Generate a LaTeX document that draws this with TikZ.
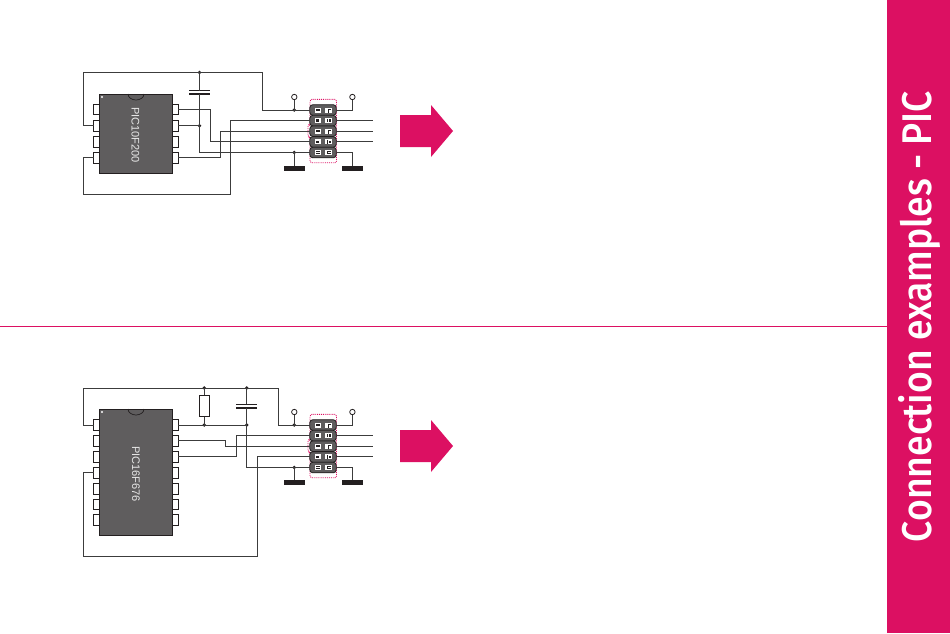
\documentclass[tikz,border=0pt]{standalone}
\usepackage{fontspec}
\setmainfont{Liberation Sans}
\newfontfamily\sidefont[FakeStretch=0.9]{Fira Sans Medium}
\definecolor{brand}{HTML}{DC1062}
\definecolor{chip}{HTML}{5F5D5E}
\definecolor{wire}{HTML}{3C3C3C}
\definecolor{gndc}{HTML}{231F20}
\tikzset{
  wirepath/.style={draw=wire,line width=1pt},
  chipbody/.style={draw=gndc,line width=0.7pt,fill=chip,minimum width=73.4pt,inner sep=0pt,outer sep=0pt},
  chiplabel/.style={text=white!85!chip,font=\fontsize{11}{11}\selectfont,rotate=-90,inner sep=0pt},
  pinbox/.style={draw=gndc,line width=0.8pt,fill=white,minimum width=5.6pt,minimum height=10.6pt,inner sep=0pt,outer sep=0pt},
  junction/.style={circle,fill=gndc,minimum size=3.7pt,inner sep=0pt,outer sep=0pt},
  vcc/.style={circle,draw=gndc,line width=0.8pt,fill=white,minimum size=5.4pt,inner sep=0pt,outer sep=0pt},
  gndbar/.style={fill=gndc,minimum width=21pt,minimum height=5pt,inner sep=0pt,outer sep=0pt},
  hdrrow/.style={draw=gndc,line width=0.8pt,fill=chip,rounded corners=3pt,minimum width=26.4pt,minimum height=10.6pt,inner sep=0pt,outer sep=0pt},
  hdrpadl/.style={fill=white,minimum width=5.6pt,minimum height=5pt,inner sep=0pt,outer sep=0pt},
  hdrpadr/.style={fill=white,minimum width=6.2pt,minimum height=5pt,inner sep=0pt,outer sep=0pt},
  plate/.style={fill=gndc,minimum width=21pt,minimum height=1.8pt,inner sep=0pt,outer sep=0pt},
  resistorbox/.style={draw=gndc,line width=0.8pt,fill=white,minimum width=10.5pt,minimum height=21.4pt,inner sep=0pt,outer sep=0pt},
  keepline/.style={draw=brand,line width=0.9pt,densely dotted},
  bigarrow/.style={fill=brand,draw=none},
}
% one five-row header: #1 prefix, #2 y of first row
\newcommand\hdrblock[2]{%
  \draw[keepline,rounded corners=1.5pt] (310,#2-10.6) -- (336.5,#2-10.6) -- (336.5,#2+52.7) -- (310,#2+52.7) -- (310,#2+27) -- (308,#2+27) -- (308,#2+15) -- (310,#2+15) -- cycle;
  \foreach \r/\o in {1/0,2/10.6,3/21.2,4/31.9,5/42.5}{
    \node[hdrrow] (#1\r) at (323,#2+\o) {};
    \node[hdrpadl] (#1l\r) at (317.8,#2+\o) {};
    \node[hdrpadr] (#1p\r) at (328.4,#2+\o) {};
  }
  \foreach \o in {0,21.2}{
    \fill[gndc] (315.8,#2+\o-0.8) rectangle (319.8,#2+\o+0.8);
    \fill[gndc] (327.6,#2+\o-1) rectangle (331,#2+\o+0);
    \fill[gndc] (327.6,#2+\o-1) rectangle (328.6,#2+\o+2.5);
  }
  \foreach \o in {10.6,31.9}{
    \fill[gndc] (316.4,#2+\o-1.3) rectangle (319.2,#2+\o+1.3);
    \fill[gndc] (327.2,#2+\o-1.6) rectangle (328,#2+\o+1.6);
    \fill[gndc] (328.8,#2+\o-1.2) rectangle (331,#2+\o+1.2);
  }
  \fill[gndc] (315.8,#2+41.3) rectangle (319.8,#2+42.2);
  \fill[gndc] (315.8,#2+42.9) rectangle (319.8,#2+43.8);
  \fill[gndc] (327.2,#2+41) rectangle (331,#2+44);
  \fill[white] (328.2,#2+42) rectangle (331,#2+43);
}
\begin{document}
\begin{tikzpicture}[x=1pt,y=-1pt]
\useasboundingbox (0,0) rectangle (950,633);
% sidebar and divider
\fill[brand] (886.5,0) rectangle (950,633);
\coordinate (divl) at (0,326.5);
\coordinate (divr) at (886.5,326.5);
\draw[brand,line width=0.9pt] (divl) -- (divr);
\node[rotate=90,anchor=base,text=white,inner sep=0pt,font=\fontsize{41.5}{41.5}\sidefont] (title) at (931,316.5) {Connection examples - PIC};

% ---- first circuit ----
\coordinate (tright2) at (373,120.6);
\coordinate (tright3) at (373,131.2);
\coordinate (tright4) at (373,141.9);
\node[junction] (tj1) at (199.5,72.5) {};
\node[junction] (tj2) at (199.5,125.7) {};
\node[junction] (tj3) at (294.3,110) {};
\node[junction] (tj4) at (294.3,152.5) {};
\node[vcc] (tv1) at (294.3,97) {};
\node[vcc] (tv2) at (352.4,97) {};
\node[gndbar] (tg1) at (294.3,168.5) {};
\node[gndbar] (tg2) at (352.4,168.5) {};
\node[chipbody,minimum height=79.3pt] (tic) at (136,133.65) {};
\foreach \n/\y in {1/109.3,2/125.7,3/141.7,4/157.7}{
  \node[pinbox] (tl\n) at (96.4,\y) {};
  \node[pinbox] (tr\n) at (175.6,\y) {};
}
\draw[draw=gndc,line width=0.7pt] (128,94) arc[start angle=180,end angle=360,x radius=8pt,y radius=6pt];
\fill[white] (102,97) circle (1.1pt);
\node[chiplabel] (tlab) at (135.5,135) {PIC10F200};
\hdrblock{th}{110}
\node[plate] (tc1) at (199.5,90.5) {};
\node[plate] (tc2) at (199.5,94) {};
\draw[wirepath] (tl2.west) -- (83,125.7) -- (83,72.5) -- (tj1.center) -- (262.5,72.5) -- (262.5,110) -- (th1.west);
\draw[wirepath] (tj1.center) -- (tc1.center);
\draw[wirepath] (tc2.center) -- (tj2.center) -- (199.5,152.5) -- (th5.west);
\draw[wirepath] (tr2.east) -- (tj2.center);
\draw[wirepath] (tr1.east) -- (210,109.3) -- (210,141.9) -- (th4.west);
\draw[wirepath] (tr4.east) -- (220,157.7) -- (220,131.2) -- (th3.west);
\draw[wirepath] (tl4.west) -- (83,157.7) -- (83,194.3) -- (230.7,194.3) -- (230.7,120.6) -- (th2.west);
\draw[wirepath] (th1.east) -- (352.4,110) -- (tv2.south);
\draw[wirepath] (th5.east) -- (352.4,152.5) -- (tg2.north);
\draw[wirepath] (th2.east) -- (tright2);
\draw[wirepath] (th3.east) -- (tright3);
\draw[wirepath] (th4.east) -- (tright4);
\draw[wirepath] (tv1.south) -- (tj3.center);
\draw[wirepath] (tj4.center) -- (tg1.north);
\path[bigarrow] (400,115) -- (431,115) -- (431,105) -- (453,131) -- (431,157) -- (431,147) -- (400,147) -- cycle;

% ---- second circuit ----
\coordinate (bright2) at (373,435.6);
\coordinate (bright3) at (373,446.2);
\coordinate (bright4) at (373,456.9);
\node[junction] (bj1) at (204.3,388) {};
\node[junction] (bj2) at (246.7,388) {};
\node[junction] (bj3) at (204.3,425) {};
\node[junction] (bj4) at (246.7,425) {};
\node[junction] (bj5) at (294.3,425) {};
\node[junction] (bj6) at (294.3,467.5) {};
\node[vcc] (bv1) at (294.3,412) {};
\node[vcc] (bv2) at (352.4,412) {};
\node[gndbar] (bg1) at (294.3,482.5) {};
\node[gndbar] (bg2) at (352.4,482.5) {};
\node[chipbody,minimum height=126.7pt] (bic) at (136,472.35) {};
\foreach \n/\y in {1/425,2/440.7,3/456.7,4/472.7,5/488.7,6/504.3,7/520}{
  \node[pinbox] (bl\n) at (96.4,\y) {};
  \node[pinbox] (br\n) at (175.6,\y) {};
}
\draw[draw=gndc,line width=0.7pt] (128,409) arc[start angle=180,end angle=360,x radius=8pt,y radius=6pt];
\fill[white] (102,412) circle (1.1pt);
\node[chiplabel] (blab) at (136,474) {PIC16F676};
\hdrblock{bh}{425}
\node[plate] (bc1) at (246.7,404.4) {};
\node[plate] (bc2) at (246.7,408) {};
\node[resistorbox] (rr) at (204.3,406) {};
\draw[wirepath] (bl1.west) -- (83,425) -- (83,388) -- (278.3,388) -- (278.3,425) -- (bh1.west);
\draw[wirepath] (bj1.center) -- (rr.north);
\draw[wirepath] (rr.south) -- (bj3.center);
\draw[wirepath] (br1.east) -- (bj4.center);
\draw[wirepath] (bj2.center) -- (bc1.center);
\draw[wirepath] (bc2.center) -- (246.7,467.5) -- (bh5.west);
\draw[wirepath] (br2.east) -- (225.7,440.7) -- (225.7,446.2) -- (bh3.west);
\draw[wirepath] (br3.east) -- (236,456.7) -- (236,435.6) -- (bh2.west);
\draw[wirepath] (bl4.west) -- (83,472.7) -- (83,556.7) -- (257.3,556.7) -- (257.3,456.9) -- (bh4.west);
\draw[wirepath] (bh1.east) -- (352.4,425) -- (bv2.south);
\draw[wirepath] (bh5.east) -- (352.4,467.5) -- (bg2.north);
\draw[wirepath] (bh2.east) -- (bright2);
\draw[wirepath] (bh3.east) -- (bright3);
\draw[wirepath] (bh4.east) -- (bright4);
\draw[wirepath] (bv1.south) -- (bj5.center);
\draw[wirepath] (bj6.center) -- (bg1.north);
\path[bigarrow] (400,430) -- (431,430) -- (431,420) -- (453,446) -- (431,472) -- (431,462) -- (400,462) -- cycle;
\end{tikzpicture}
\end{document}
